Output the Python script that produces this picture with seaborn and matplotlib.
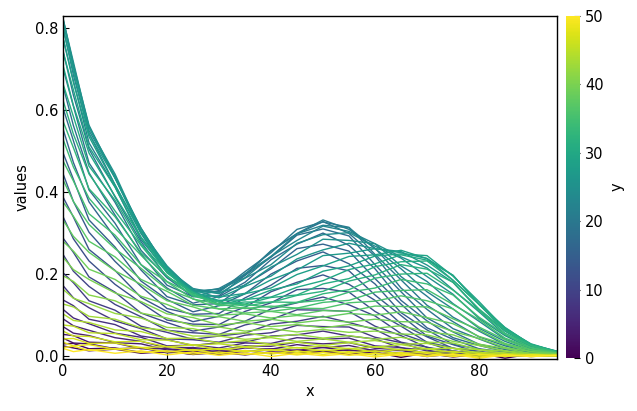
import matplotlib
matplotlib.use("Agg")
import matplotlib.pyplot as plt
import seaborn as sns
import pandas as pd
from matplotlib.cm import ScalarMappable
from matplotlib.colors import Normalize

x_pos = [0, 2, 5, 10, 15, 20, 25, 30, 35, 40, 45, 50, 55, 60, 65, 70, 75, 80, 85, 90, 95]

# one curve per y level
y00 = [.024, .019, .012, .016, .006, .010, .004, .012, .003, .009, .006, .011, .004, .008, -.004, .007, .003, .006, -.006, .004, .002]
y01 = [.029, .030, .017, .019, .008, .011, .003, .008, .002, .009, .005, .011, .004, .007, .000, .005, -.003, .003, -.002, .002, .001]
y02 = [.043, .031, .029, .017, .019, .007, .011, .003, .012, .006, .014, .009, .015, .005, .008, -.002, .004, .001, .003, -.001, .002]
y03 = [.052, .049, .033, .031, .017, .017, .006, .012, .009, .017, .013, .020, .012, .014, .004, .006, -.002, .003, .000, .002, .001]
y04 = [.071, .055, .049, .032, .029, .014, .018, .009, .019, .016, .027, .020, .025, .012, .013, .001, .006, -.003, .003, .000, .002]
y05 = [.090, .073, .062, .044, .035, .019, .020, .014, .024, .023, .033, .029, .032, .018, .015, .003, .005, -.001, .002, .000, .001]
y06 = [.113, .092, .078, .055, .045, .024, .026, .019, .031, .030, .044, .040, .043, .024, .020, .005, .006, .000, .002, -.002, .001]
y07 = [.136, .122, .089, .076, .048, .039, .025, .032, .033, .048, .051, .060, .048, .041, .019, .014, .002, .003, -.001, .001, .000]
y08 = [.171, .141, .117, .085, .066, .041, .039, .033, .050, .056, .074, .071, .070, .045, .032, .011, .008, .001, .002, .000, .001]
y09 = [.202, .178, .134, .111, .072, .057, .040, .048, .055, .077, .084, .096, .081, .064, .033, .021, .005, .004, .000, .001, .000]
y10 = [.247, .206, .169, .125, .095, .062, .056, .052, .075, .088, .112, .111, .108, .072, .049, .020, .012, .003, .002, .001, .000]
y11 = [.287, .252, .192, .155, .104, .081, .060, .070, .084, .114, .129, .143, .124, .097, .054, .032, .011, .006, .000, .001, .000]
y12 = [.339, .285, .231, .174, .129, .087, .077, .076, .108, .129, .161, .164, .155, .108, .072, .033, .019, .004, .003, .000, .001]
y13 = [.387, .338, .259, .208, .142, .108, .083, .096, .118, .156, .179, .197, .174, .135, .078, .046, .018, .011, .002, .002, .001]
y14 = [.444, .376, .301, .230, .169, .115, .101, .103, .141, .172, .213, .220, .207, .148, .098, .048, .027, .008, .005, .001, .002]
y15 = [.495, .430, .331, .265, .182, .137, .107, .122, .151, .199, .231, .253, .224, .175, .105, .063, .028, .016, .004, .003, .002]
y16 = [.553, .471, .375, .288, .209, .144, .124, .127, .173, .212, .261, .272, .255, .188, .126, .068, .040, .017, .009, .002, .003]
y17 = [.604, .524, .404, .323, .222, .165, .128, .144, .179, .234, .272, .299, .269, .212, .135, .085, .044, .025, .010, .005, .002]
y18 = [.658, .561, .446, .343, .248, .172, .144, .146, .196, .240, .294, .309, .292, .222, .156, .092, .058, .028, .015, .004, .004]
y19 = [.701, .608, .470, .374, .257, .190, .144, .159, .196, .255, .297, .327, .298, .243, .165, .113, .066, .041, .017, .008, .003]
y20 = [.744, .635, .504, .387, .278, .191, .157, .156, .205, .251, .308, .326, .313, .247, .185, .123, .083, .046, .024, .008, .005]
y21 = [.774, .670, .519, .412, .283, .206, .153, .164, .198, .256, .298, .331, .308, .262, .193, .145, .094, .060, .027, .012, .005]
y22 = [.802, .684, .542, .417, .298, .203, .161, .155, .200, .242, .297, .318, .312, .261, .212, .156, .114, .067, .035, .013, .006]
y23 = [.818, .709, .549, .437, .300, .216, .158, .162, .190, .242, .281, .316, .303, .273, .219, .181, .127, .084, .040, .017, .006]
y24 = [.823, .709, .562, .435, .311, .211, .164, .151, .189, .222, .274, .295, .300, .267, .238, .193, .150, .091, .049, .018, .008]
y25 = [.821, .716, .556, .443, .305, .219, .157, .153, .172, .216, .247, .284, .281, .273, .241, .214, .161, .107, .051, .023, .008]
y26 = [.815, .701, .558, .433, .311, .211, .161, .141, .169, .194, .236, .258, .274, .261, .254, .221, .179, .111, .060, .023, .010]
y27 = [.797, .693, .541, .433, .301, .216, .152, .143, .152, .185, .209, .244, .250, .261, .251, .237, .184, .125, .061, .027, .009]
y28 = [.776, .666, .534, .416, .302, .207, .157, .132, .151, .165, .198, .219, .242, .246, .257, .237, .196, .125, .068, .027, .011]
y29 = [.741, .648, .509, .411, .289, .212, .149, .135, .136, .160, .175, .206, .219, .243, .248, .244, .194, .132, .066, .029, .010]
y30 = [.708, .610, .494, .389, .288, .202, .155, .125, .137, .143, .167, .183, .210, .224, .246, .233, .196, .126, .069, .027, .011]
y31 = [.663, .583, .462, .379, .272, .204, .148, .131, .126, .142, .148, .175, .188, .217, .229, .231, .184, .126, .064, .028, .009]
y32 = [.623, .540, .443, .353, .269, .193, .154, .125, .131, .130, .147, .157, .182, .197, .222, .211, .179, .114, .062, .024, .010]
y33 = [.572, .507, .407, .339, .251, .195, .145, .131, .121, .131, .130, .151, .161, .189, .199, .201, .160, .110, .055, .025, .009]
y34 = [.528, .460, .384, .311, .245, .181, .150, .122, .125, .118, .130, .135, .155, .165, .186, .175, .148, .094, .052, .020, .009]
y35 = [.475, .426, .346, .294, .222, .180, .138, .126, .115, .121, .116, .130, .135, .155, .159, .161, .125, .088, .043, .019, .007]
y36 = [.429, .376, .320, .261, .213, .162, .139, .114, .117, .108, .116, .115, .129, .133, .146, .134, .114, .070, .039, .015, .007]
y37 = [.375, .340, .279, .241, .186, .157, .123, .114, .104, .108, .100, .110, .108, .121, .120, .119, .090, .063, .030, .014, .006]
y38 = [.331, .291, .252, .207, .174, .134, .119, .099, .102, .092, .098, .094, .103, .099, .107, .093, .078, .047, .028, .010, .006]
y39 = [.279, .255, .211, .186, .145, .125, .098, .095, .084, .089, .080, .087, .082, .089, .083, .082, .059, .042, .020, .010, .004]
y40 = [.240, .210, .186, .153, .132, .102, .093, .075, .081, .071, .076, .068, .076, .067, .073, .058, .051, .028, .018, .005, .004]
y41 = [.195, .181, .148, .134, .104, .092, .073, .070, .060, .066, .058, .064, .057, .060, .053, .051, .035, .025, .012, .006, .002]
y42 = [.162, .140, .127, .103, .092, .069, .066, .052, .056, .046, .052, .043, .049, .040, .045, .033, .031, .015, .011, .002, .003]
y43 = [.126, .119, .096, .089, .068, .062, .048, .048, .040, .044, .035, .041, .033, .037, .028, .030, .018, .015, .005, .004, .000]
y44 = [.102, .086, .081, .063, .059, .042, .043, .031, .037, .028, .033, .025, .032, .021, .027, .017, .018, .006, .007, .000, .002]
y45 = [.075, .072, .056, .054, .039, .038, .026, .029, .022, .027, .019, .024, .017, .022, .014, .017, .008, .009, .002, .002, -.001]
y46 = [.060, .048, .047, .034, .035, .022, .026, .015, .021, .013, .020, .012, .018, .009, .016, .007, .011, .001, .004, -.002, .001]
y47 = [.041, .042, .030, .031, .020, .022, .013, .017, .010, .015, .008, .014, .007, .012, .005, .009, .001, .005, -.002, .002, .000]
y48 = [.033, .024, .027, .016, .020, .009, .015, .005, .013, .004, .012, .003, .010, .001, .008, -.001, .005, -.003, .002, -.001, .001]
y49 = [.020, .023, .013, .017, .008, .012, .004, .009, .003, .008, .002, .008, .001, .006, .000, .005, -.002, .003, -.001, .002, .000]
y50 = [.018, .010, .015, .006, .012, .002, .009, .001, .007, -.002, .006, .000, .005, -.003, .004, -.001, .003, -.006, .002, -.002, .001]

y_levels = list(range(0, 51))
series = [y00, y01, y02, y03, y04, y05, y06, y07, y08, y09,
          y10, y11, y12, y13, y14, y15, y16, y17, y18, y19,
          y20, y21, y22, y23, y24, y25, y26, y27, y28, y29,
          y30, y31, y32, y33, y34, y35, y36, y37, y38, y39,
          y40, y41, y42, y43, y44, y45, y46, y47, y48, y49, y50]
cbar_ticks = [0, 10, 20, 30, 40, 50]

rows = []
for lev, vals in zip(y_levels, series):
    for xv, v in zip(x_pos, vals):
        rows.append({"x": xv, "y": lev, "values": v})
df = pd.DataFrame(rows)

sns.set_style("white", {"xtick.direction": "in", "ytick.direction": "in",
                        "axes.edgecolor": "black", "text.color": "black",
                        "axes.labelcolor": "black", "xtick.color": "black",
                        "ytick.color": "black"})
plt.rcParams["font.family"] = ["DejaVu Sans"]
plt.rcParams["font.size"] = 10.5

fig = plt.figure(figsize=(6.37, 4.11), dpi=100)
ax = fig.add_axes([0.0989, 0.1265, 0.7755, 0.8345])
cax = fig.add_axes([0.8885, 0.129, 0.022, 0.832])

norm = Normalize(vmin=0, vmax=50)
sns.lineplot(data=df, x="x", y="values", hue="y", palette="viridis",
             hue_norm=norm, legend=False, linewidth=1.0, ax=ax,
             estimator=None, errorbar=None)

ax.set_xlim(0, 95)
ax.set_ylim(-0.008, 0.828)
ax.set_xticks([0, 20, 40, 60, 80])
ax.set_yticks([0.0, 0.2, 0.4, 0.6, 0.8])
ax.tick_params(direction="in", length=4, width=0.8, labelsize=10.5,
               left=True, bottom=True)
for s in ax.spines.values():
    s.set_linewidth(1.0)
    s.set_color("black")
ax.set_xlabel("x", fontsize=10.5)
ax.set_ylabel("values", fontsize=10.5)

cb = fig.colorbar(ScalarMappable(norm=norm, cmap="viridis"), cax=cax)
cb.outline.set_visible(False)
cb.set_ticks(cbar_ticks)
cb.ax.tick_params(direction="in", length=4, width=0.8, labelsize=10.5)
cb.set_label("y", fontsize=10.5)

fig.savefig("out.png", dpi=100)
